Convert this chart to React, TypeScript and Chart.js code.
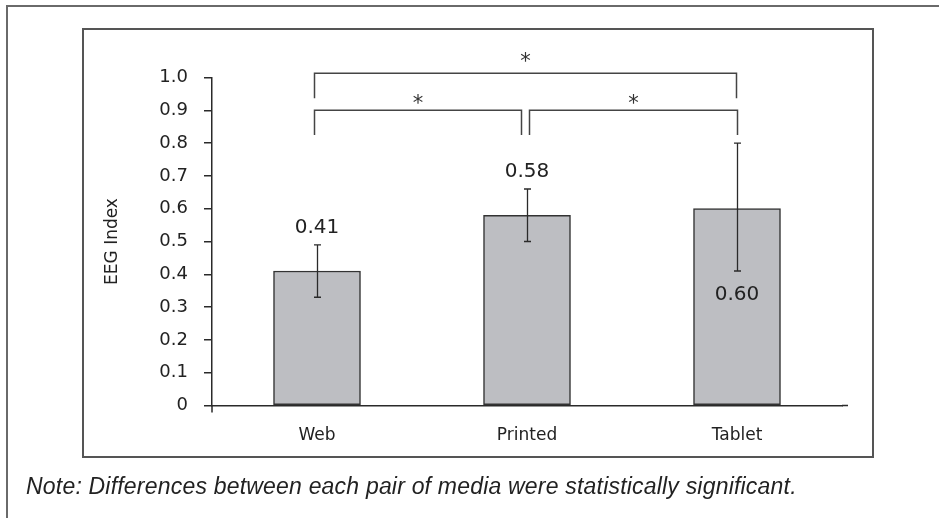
import React, { useEffect, useRef } from 'react';
import { Chart, registerables } from 'chart.js';

Chart.register(...registerables);

// ---- data ----
const categories = ['Web', 'Printed', 'Tablet'];
const means = [0.41, 0.58, 0.6];
const errLow = [0.33, 0.5, 0.41];
const errHigh = [0.49, 0.66, 0.8];
const valueLabels = ['0.41', '0.58', '0.60'];
const labelSide = ['above', 'above', 'below'];
const yTickLabels = ['0', '0.1', '0.2', '0.3', '0.4', '0.5', '0.6', '0.7', '0.8', '0.9', '1.0'];
const bracketFrom = [0, 0, 1];
const bracketTo = [2, 1, 2];
const bracketLevel = [1.013, 0.9, 0.9];
const bracketLegEnd = [0.937, 0.825, 0.825];
const bracketStarLevel = [1.062, 0.934, 0.934];
const bracketMarks = ['*', '*', '*'];
const yAxisTitle = 'EEG Index';
const noteText = 'Note: Differences between each pair of media were statistically significant.';

// ---- style ----
const W = 939;
const H = 518;
const FONT = "'DejaVu Sans', sans-serif";
const INK = '#2a2a2a';
const bracketFromOffset = [-3, -3, 2];
const bracketToOffset = [-1, -6, 0];

function drawCenteredText(ctx: CanvasRenderingContext2D, text: string, x: number, cy: number) {
  ctx.textAlign = 'center';
  ctx.textBaseline = 'alphabetic';
  const m = ctx.measureText(text);
  const base = cy + (m.actualBoundingBoxAscent - m.actualBoundingBoxDescent) / 2;
  ctx.fillText(text, x, base);
}

const decorPlugin = {
  id: 'decor',
  beforeDraw(chart: any) {
    const ctx = chart.ctx as CanvasRenderingContext2D;
    ctx.save();
    ctx.fillStyle = '#ffffff';
    ctx.fillRect(0, 0, W, H);
    // outer frame (top + left)
    ctx.strokeStyle = '#6a6a6a';
    ctx.lineWidth = 2;
    ctx.beginPath();
    ctx.moveTo(7, H);
    ctx.lineTo(7, 6);
    ctx.lineTo(W, 6);
    ctx.stroke();
    // inner frame
    ctx.strokeStyle = '#555555';
    ctx.lineWidth = 2;
    ctx.strokeRect(83, 29, 790, 428);
    ctx.restore();
  },
  afterDatasetsDraw(chart: any) {
    const ctx = chart.ctx as CanvasRenderingContext2D;
    const x = chart.scales.x;
    const y = chart.scales.y;
    const area = chart.chartArea;
    ctx.save();
    // axis extensions
    ctx.strokeStyle = INK;
    ctx.lineWidth = 1.5;
    ctx.beginPath();
    ctx.moveTo(area.left, area.bottom);
    ctx.lineTo(area.left, area.bottom + 7);
    ctx.moveTo(area.right, area.bottom);
    ctx.lineTo(area.right + 6, area.bottom);
    ctx.stroke();

    // error bars
    ctx.strokeStyle = INK;
    ctx.lineWidth = 1.3;
    for (let i = 0; i < categories.length; i++) {
      const px = Math.round(x.getPixelForValue(i)) + 0.5;
      const yh = y.getPixelForValue(errHigh[i]);
      const yl = y.getPixelForValue(errLow[i]);
      ctx.beginPath();
      ctx.moveTo(px, yh);
      ctx.lineTo(px, yl);
      ctx.moveTo(px - 3.5, yh);
      ctx.lineTo(px + 3.5, yh);
      ctx.moveTo(px - 3.5, yl);
      ctx.lineTo(px + 3.5, yl);
      ctx.stroke();
    }

    // value labels
    ctx.fillStyle = '#222222';
    ctx.font = `20px ${FONT}`;
    for (let i = 0; i < categories.length; i++) {
      const px = x.getPixelForValue(i);
      const cy =
        labelSide[i] === 'above'
          ? y.getPixelForValue(errHigh[i]) - 19
          : y.getPixelForValue(errLow[i]) + 22;
      drawCenteredText(ctx, valueLabels[i], px, cy);
    }

    // significance brackets
    ctx.strokeStyle = '#444444';
    ctx.lineWidth = 1.5;
    ctx.font = `21px ${FONT}`;
    ctx.fillStyle = '#333333';
    for (let b = 0; b < bracketFrom.length; b++) {
      const x1 = Math.round(x.getPixelForValue(bracketFrom[b]) + bracketFromOffset[b]) + 0.5;
      const x2 = Math.round(x.getPixelForValue(bracketTo[b]) + bracketToOffset[b]) + 0.5;
      const yl = y.getPixelForValue(bracketLevel[b]);
      const ye = y.getPixelForValue(bracketLegEnd[b]);
      ctx.beginPath();
      ctx.moveTo(x1, ye);
      ctx.lineTo(x1, yl);
      ctx.lineTo(x2, yl);
      ctx.lineTo(x2, ye);
      ctx.stroke();
      drawCenteredText(ctx, bracketMarks[b], (x1 + x2) / 2, y.getPixelForValue(bracketStarLevel[b]));
    }
    ctx.restore();
  },
};

export default function App() {
  const ref = useRef<HTMLCanvasElement | null>(null);

  useEffect(() => {
    if (!ref.current) return;
    const chart = new Chart(ref.current, {
      type: 'bar',
      data: {
        labels: categories,
        datasets: [
          {
            data: means,
            backgroundColor: '#bdbec2',
            borderColor: '#333333',
            borderWidth: 1.5,
            borderSkipped: false,
            barThickness: 87,
          },
        ],
      },
      options: {
        responsive: false,
        animation: false,
        devicePixelRatio: 1,
        layout: { padding: { left: 0, right: 97, top: 77.5, bottom: 0 } },
        plugins: {
          legend: { display: false },
          tooltip: { enabled: false },
        },
        scales: {
          x: {
            type: 'category',
            offset: true,
            grid: { display: false },
            border: { display: true, color: INK, width: 1.5 },
            ticks: { font: { family: FONT, size: 17 }, color: '#222222', padding: 12 },
            afterFit: (s: any) => {
              s.height = 112.5;
            },
          },
          y: {
            min: 0,
            max: 1,
            ticks: {
              stepSize: 0.1,
              font: { family: FONT, size: 18 },
              color: '#222222',
              padding: 16,
              callback: (_v: any, i: number) => yTickLabels[i],
            },
            grid: {
              display: true,
              drawOnChartArea: false,
              drawTicks: true,
              tickLength: 8,
              color: INK,
              lineWidth: 1.5,
            },
            border: { display: true, color: INK, width: 1.5 },
            title: {
              display: true,
              text: yAxisTitle,
              font: { family: FONT, size: 17 },
              color: '#222222',
              padding: { top: 102, bottom: 0 },
            },
            afterFit: (s: any) => {
              s.width = 212;
            },
          },
        },
      },
      plugins: [decorPlugin],
    });
    return () => chart.destroy();
  }, []);

  return (
    <div style={{ position: 'fixed', left: 0, top: 0, width: W, height: H, background: '#fff' }}>
      <canvas ref={ref} width={W} height={H} style={{ display: 'block' }} />
      <div
        style={{
          position: 'absolute',
          left: 26,
          top: 475,
          fontFamily: "'Liberation Sans', Arial, sans-serif",
          fontStyle: 'italic',
          fontSize: 23,
          letterSpacing: '0.2px',
          lineHeight: '23px',
          color: '#222222',
          whiteSpace: 'nowrap',
        }}
      >
        {noteText}
      </div>
    </div>
  );
}
